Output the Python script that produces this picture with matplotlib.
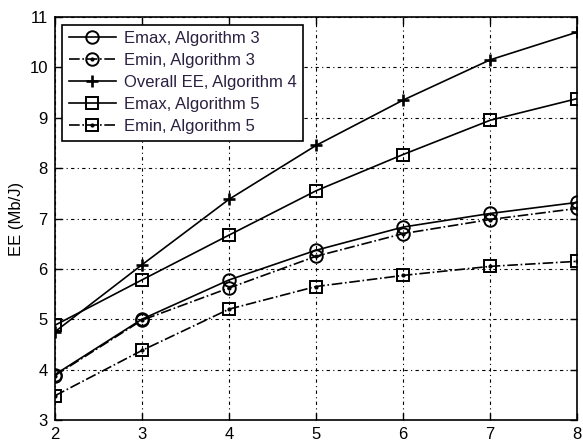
import numpy as np
import matplotlib
matplotlib.use("Agg")
import matplotlib.pyplot as plt

plt.rcParams['font.family'] = ['Liberation Sans', 'DejaVu Sans']

N = [2, 3, 4, 5, 6, 7, 8]
emax_alg3 = [3.90, 5.00, 5.78, 6.37, 6.83, 7.10, 7.32]
emin_alg3 = [3.88, 4.98, 5.62, 6.25, 6.70, 6.98, 7.20]
overall_alg4 = [4.75, 6.08, 7.38, 8.45, 9.35, 10.15, 10.70]
emax_alg5 = [4.88, 5.78, 6.67, 7.55, 8.27, 8.95, 9.38]
emin_alg5 = [3.48, 4.38, 5.20, 5.65, 5.87, 6.05, 6.15]

fig = plt.figure(figsize=(5.83, 4.48), dpi=100)
ax = fig.add_axes([0.094, 0.0625, 0.896, 0.8995])

lw = 1.2
mk = dict(markersize=9, markerfacecolor='none', markeredgecolor='k', markeredgewidth=1.4)
dot = dict(marker='.', markersize=4, color='k', linestyle='none')

l1, = ax.plot(N, emax_alg3, '-', color='k', lw=lw, marker='o', **mk)
l2, = ax.plot(N, emin_alg3, '-.', color='k', lw=lw, marker='o', **mk)
d2, = ax.plot(N, emin_alg3, **dot)
l3, = ax.plot(N, overall_alg4, '-', color='k', lw=lw, marker='+', markersize=9,
              markeredgewidth=1.9, markeredgecolor='k')
l4, = ax.plot(N, emax_alg5, '-', color='k', lw=lw, marker='s', **mk)
l5, = ax.plot(N, emin_alg5, '-.', color='k', lw=lw, marker='s', **mk)
d5, = ax.plot(N, emin_alg5, **dot)

ax.set_xlim(2, 8)
ax.set_ylim(3, 11)
ax.set_xticks(N)
ax.set_yticks(range(3, 12))
ax.grid(True, color='k', linestyle=(0, (1, 3, 3, 3)), linewidth=0.8)
ax.tick_params(direction='in', labelsize=12, top=True, right=True, length=5, width=1, pad=5)
for s in ax.spines.values():
    s.set_linewidth(1.2)
ax.set_ylabel('EE (Mb/J)', fontsize=12, labelpad=4)

leg = ax.legend([l1, (l2, d2), l3, l4, (l5, d5)],
                ['Emax, Algorithm 3', 'Emin, Algorithm 3', 'Overall EE, Algorithm 4',
                 'Emax, Algorithm 5', 'Emin, Algorithm 5'],
                loc='upper left', fontsize=12, fancybox=False, edgecolor='k',
                framealpha=1, handlelength=2.8, borderaxespad=0.45,
                labelspacing=0.42, handletextpad=0.5)
leg.get_frame().set_linewidth(1.2)
for t in leg.get_texts():
    t.set_color('#2b2040')

fig.savefig('out.png', dpi=100)
